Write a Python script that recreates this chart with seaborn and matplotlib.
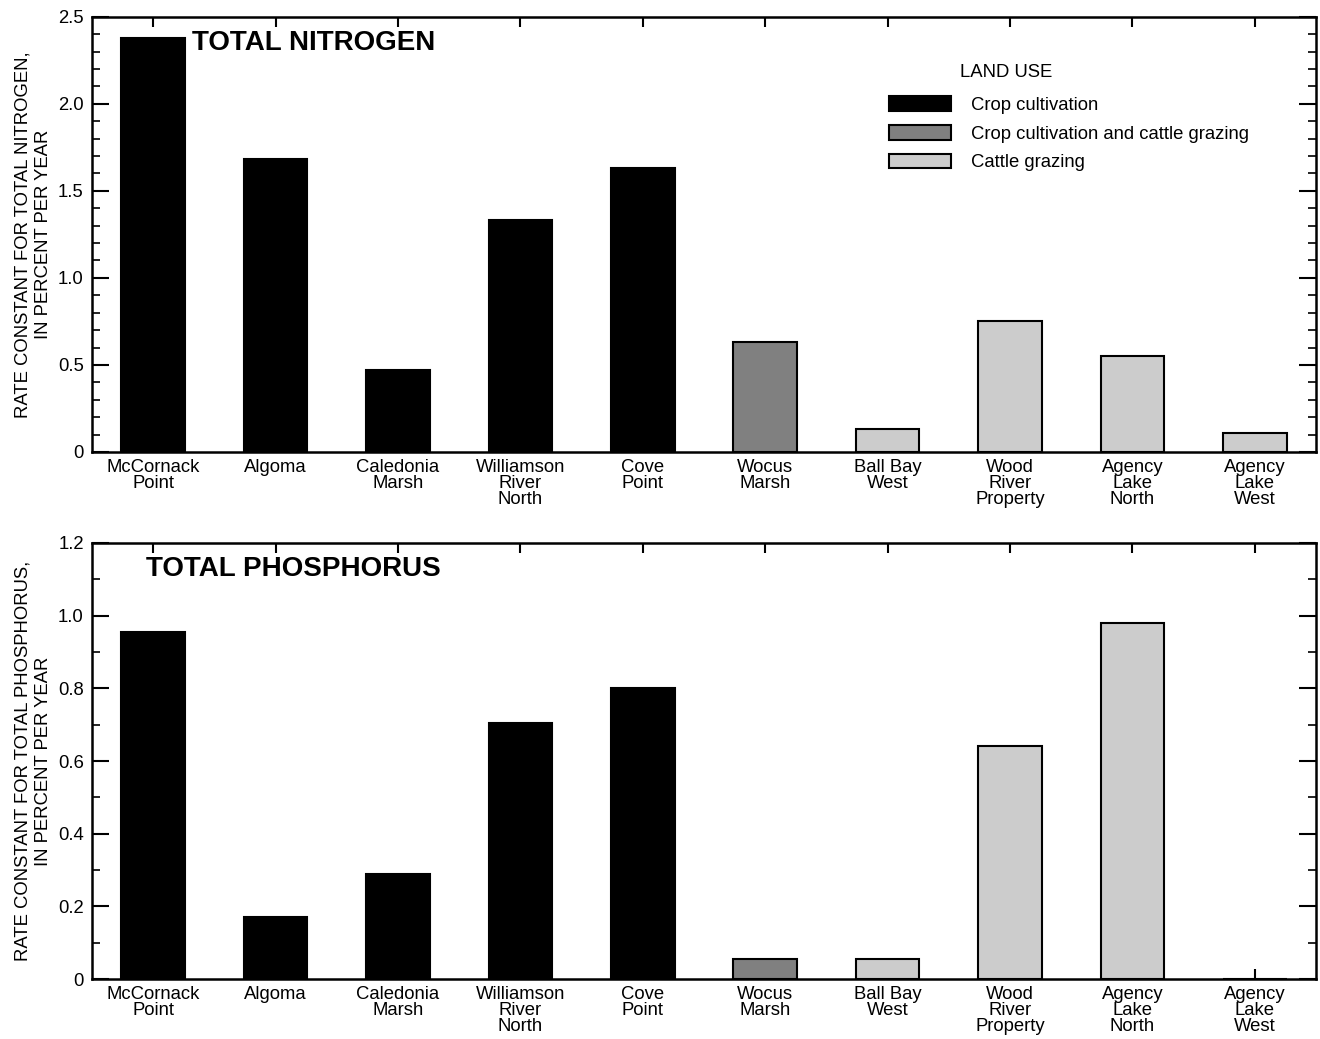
import numpy as np
import pandas as pd
import matplotlib
matplotlib.use("Agg")
import matplotlib.pyplot as plt
from matplotlib.patches import Patch
from matplotlib.ticker import MultipleLocator, FuncFormatter
import seaborn as sns

sites = ["McCornack\nPoint", "Algoma", "Caledonia\nMarsh", "Williamson\nRiver\nNorth",
         "Cove\nPoint", "Wocus\nMarsh", "Ball Bay\nWest", "Wood\nRiver\nProperty",
         "Agency\nLake\nNorth", "Agency\nLake\nWest"]
land_use = ["Crop cultivation"] * 5 + ["Crop cultivation and cattle grazing"] + ["Cattle grazing"] * 4
nitrogen = [2.38, 1.68, 0.47, 1.33, 1.63, 0.63, 0.13, 0.75, 0.55, 0.11]
phosphorus = [0.955, 0.17, 0.29, 0.705, 0.80, 0.055, 0.055, 0.64, 0.98, 0.0]

uses = ["Crop cultivation", "Crop cultivation and cattle grazing", "Cattle grazing"]
colors = {"Crop cultivation": "#000000",
          "Crop cultivation and cattle grazing": "#808080",
          "Cattle grazing": "#cccccc"}

df = pd.DataFrame({"site": sites, "use": land_use, "N": nitrogen, "P": phosphorus})

sns.set_style("ticks")
plt.rcParams["font.family"] = ["Liberation Sans", "DejaVu Sans"]
plt.rcParams["font.size"] = 13.3
plt.rcParams["text.color"] = "black"
plt.rcParams["axes.labelcolor"] = "black"
plt.rcParams["xtick.color"] = "black"
plt.rcParams["ytick.color"] = "black"
plt.rcParams["axes.edgecolor"] = "black"

fig = plt.figure(figsize=(13.2, 10.39), dpi=100)
ax1 = fig.add_axes([0.0697, 0.565, 0.9273, 0.4189])
ax2 = fig.add_axes([0.0697, 0.0577, 0.9273, 0.4197])


def fmt(v, pos):
    return "0" if abs(v) < 1e-9 else f"{v:.1f}"


def draw(ax, col, ymax, major, title, tx, ylabel):
    sns.barplot(data=df, x="site", y=col, hue="use", hue_order=uses, palette=colors,
                dodge=False, width=0.52, edgecolor="black", linewidth=1.5,
                legend=False, ax=ax)
    ax.set_xlim(-0.5, 9.5)
    ax.set_ylim(0, ymax)
    ax.yaxis.set_major_locator(MultipleLocator(major))
    ax.yaxis.set_minor_locator(MultipleLocator(0.1))
    ax.yaxis.set_major_formatter(FuncFormatter(fmt))
    ax.tick_params(axis="y", which="major", direction="in", length=12, width=1.5,
                   left=True, right=True, labelsize=13.3, pad=6)
    ax.tick_params(axis="y", which="minor", direction="in", length=6, width=1.2,
                   left=True, right=True)
    ax.tick_params(axis="x", which="major", direction="in", length=7, width=1.5,
                   top=True, bottom=True, labelsize=13.3, pad=5)
    for lab in ax.get_xticklabels():
        lab.set_linespacing(0.93)
    for s in ax.spines.values():
        s.set_visible(True)
        s.set_linewidth(1.8)
        s.set_color("black")
    ax.set_xlabel("")
    ax.set_ylabel(ylabel, fontsize=13.3, linespacing=1.3, labelpad=4)
    ax.text(tx, 0.94, title, transform=ax.transAxes, fontsize=20, fontweight="bold",
            va="center", ha="left")


draw(ax1, "N", 2.5, 0.5, "TOTAL NITROGEN", 0.0817,
     "RATE CONSTANT FOR TOTAL NITROGEN,\nIN PERCENT PER YEAR")
draw(ax2, "P", 1.2, 0.2, "TOTAL PHOSPHORUS", 0.044,
     "RATE CONSTANT FOR TOTAL PHOSPHORUS,\nIN PERCENT PER YEAR")

handles = [Patch(facecolor=colors[u], edgecolor="black", linewidth=1.5) for u in uses]
ax1.text(0.709, 0.873, "LAND USE", transform=ax1.transAxes, fontsize=13.3,
         va="center", ha="left")
ax1.legend(handles, uses, loc="upper left", bbox_to_anchor=(0.645, 0.835),
           frameon=False, fontsize=13.3, handlelength=3.35, handleheight=0.85,
           handletextpad=1.08, labelspacing=0.6, borderaxespad=0)

fig.savefig("out.png", dpi=100)
